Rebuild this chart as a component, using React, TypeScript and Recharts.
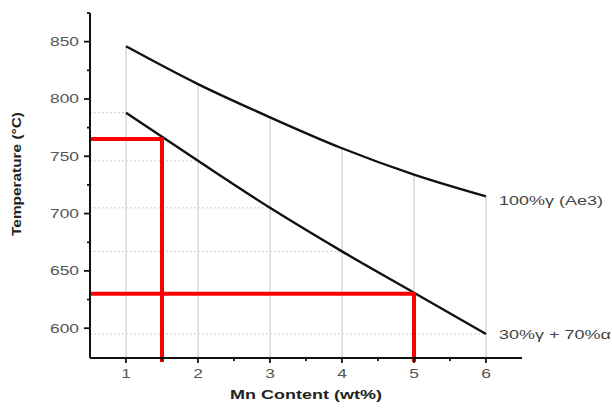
import React from 'react';
import {
  ComposedChart,
  Line,
  XAxis,
  YAxis,
  ReferenceLine,
  LabelList
} from 'recharts';

const mnContent = [1, 2, 3, 4, 5, 6];
const fullAustenite = [846, 813, 784, 757, 734, 715];
const partialAustenite = [788, 746, 705, 667, 631, 595];

const upperName = '100%\u03b3 (Ae3)';
const lowerName = '30%\u03b3 + 70%\u03b1';

const xTicks = [1, 1.5, 2, 2.5, 3, 3.5, 4, 4.5, 5, 5.5, 6];
const yTicks = [600, 625, 650, 675, 700, 725, 750, 775, 800, 825, 850, 875];

// red guide lines: [Mn, temperature]
const guides = [
  [1.5, 765],
  [5, 630]
];

const X_MIN = 0.5;
const X_MAX = 6.5;
const Y_MIN = 574;
const Y_MAX = 875;

const data = mnContent.map((mn, i) => ({
  mn,
  upper: fullAustenite[i],
  lower: partialAustenite[i]
}));

const FONT = '"Liberation Sans", Arial, sans-serif';

const XTick = ({ x, y, payload }: any) => {
  const major = Number.isInteger(payload.value);
  return (
    <g>
      <line x1={x} x2={x} y1={y} y2={y + (major ? 5 : 3)} stroke="#111" strokeWidth={1.8} />
      {major && (
        <text
          transform={`translate(${x},${y + 20}) scale(1.45,1)`}
          textAnchor="middle"
          fontFamily={FONT}
          fontSize={12}
          fill="#555"
        >
          {payload.value}
        </text>
      )}
    </g>
  );
};

const YTick = ({ x, y, payload }: any) => {
  const major = payload.value % 50 === 0;
  return (
    <g>
      <line x1={x} x2={x - (major ? 6 : 3)} y1={y} y2={y} stroke="#111" strokeWidth={1.8} />
      {major && (
        <text
          transform={`translate(${x - 11},${y + 4.5}) scale(1.45,1)`}
          textAnchor="end"
          fontFamily={FONT}
          fontSize={12}
          fill="#555"
        >
          {payload.value}
        </text>
      )}
    </g>
  );
};

const endLabel = (name: string, dy: number) => (props: any) => {
  const { x, y, index } = props;
  if (index !== data.length - 1) return null;
  return (
    <text
      transform={`translate(${x + 13},${y + dy}) scale(1.5,1)`}
      fontFamily={FONT}
      fontSize={12}
      fill="#444"
    >
      {name}
    </text>
  );
};

export default function App() {
  return (
    <div style={{ position: 'absolute', left: 0, top: 0, background: '#fff' }}>
      <ComposedChart
        width={612}
        height={408}
        data={data}
        margin={{ top: 13, right: 90, bottom: 0, left: 0 }}
      >
        <XAxis
          dataKey="mn"
          type="number"
          domain={[X_MIN, X_MAX]}
          allowDataOverflow
          ticks={xTicks}
          interval={0}
          height={50}
          tickSize={0}
          tickMargin={0}
          tickLine={false}
          axisLine={{ stroke: '#111', strokeWidth: 2 }}
          tick={<XTick />}
          label={(p: any) => {
            const vb = p.viewBox || {};
            return (
              <text
                transform={`translate(${vb.x + vb.width / 2},${vb.y + 41}) scale(1.5,1)`}
                textAnchor="middle"
                fontFamily={FONT}
                fontWeight="bold"
                fontSize={12}
                fill="#222"
              >
                Mn Content (wt%)
              </text>
            );
          }}
        />
        <YAxis
          type="number"
          domain={[Y_MIN, Y_MAX]}
          allowDataOverflow
          ticks={yTicks}
          interval={0}
          width={90}
          tickSize={0}
          tickMargin={0}
          tickLine={false}
          axisLine={{ stroke: '#111', strokeWidth: 2 }}
          tick={<YTick />}
          label={(p: any) => {
            const vb = p.viewBox || {};
            const cy = 174;
            return (
              <text
                transform={`translate(${vb.x + 21},${cy}) rotate(-90) scale(1.4,1.15)`}
                textAnchor="middle"
                fontFamily={FONT}
                fontWeight="bold"
                fontSize={11}
                fill="#222"
              >
                Temperature (°C)
              </text>
            );
          }}
        />

        {data.map((d) => (
          <ReferenceLine
            key={`v${d.mn}`}
            segment={[{ x: d.mn, y: d.upper }, { x: d.mn, y: Y_MIN }]}
            stroke="#c4c4c4"
            strokeWidth={1}
            ifOverflow="visible"
          />
        ))}
        {data.map((d) => (
          <ReferenceLine
            key={`h${d.mn}`}
            segment={[{ x: X_MIN, y: d.lower }, { x: d.mn, y: d.lower }]}
            stroke="#cfcfcf"
            strokeWidth={1}
            strokeDasharray="2 2"
            ifOverflow="visible"
          />
        ))}

        <Line
          dataKey="upper"
          type="monotone"
          stroke="#111"
          strokeWidth={2.4}
          dot={false}
          isAnimationActive={false}
        >
          <LabelList dataKey="upper" content={endLabel(upperName, 9)} />
        </Line>
        <Line
          dataKey="lower"
          type="monotone"
          stroke="#111"
          strokeWidth={2.4}
          dot={false}
          isAnimationActive={false}
        >
          <LabelList dataKey="lower" content={endLabel(lowerName, 5)} />
        </Line>

        {guides.map(([gx, gy]) => (
          <ReferenceLine
            key={`rh${gx}`}
            segment={[{ x: X_MIN, y: gy }, { x: gx, y: gy }]}
            stroke="#ff0000"
            strokeWidth={4}
            ifOverflow="visible"
          />
        ))}
        {guides.map(([gx, gy]) => (
          <ReferenceLine
            key={`rv${gx}`}
            segment={[{ x: gx, y: gy + 1.5 }, { x: gx, y: Y_MIN - 3.5 }]}
            stroke="#ff0000"
            strokeWidth={4}
            ifOverflow="visible"
          />
        ))}
      </ComposedChart>
    </div>
  );
}
